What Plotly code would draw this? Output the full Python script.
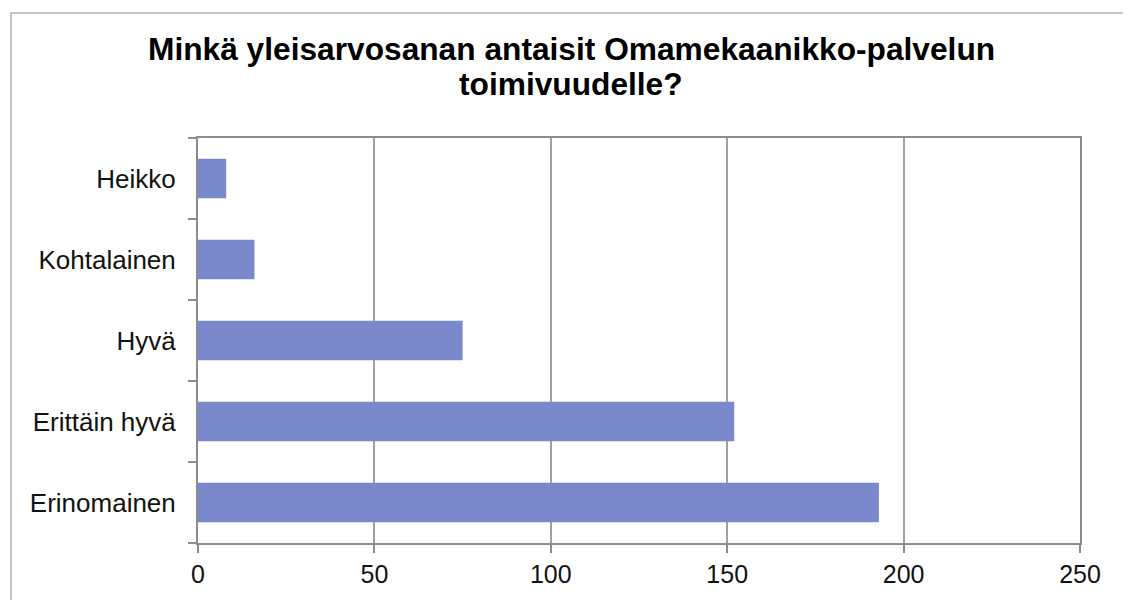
import plotly.graph_objects as go

categories = ["Erinomainen", "Erittäin hyvä", "Hyvä", "Kohtalainen", "Heikko"]
values = [193, 152, 75, 16, 8]
x_ticks = [0, 50, 100, 150, 200, 250]
title_line1 = "Minkä yleisarvosanan antaisit Omamekaanikko-palvelun"
title_line2 = "toimivuudelle?"

OFF = 8  # default body margin of the page
W, H = 1131 - OFF, 600 - OFF
L, R, T, B = 198 - OFF, 51, 138 - OFF, 54
pw, ph = W - L - R, H - T - B

def px_x(p):
    return (p - OFF - L) / pw

def px_y(p):
    return (H - B - (p - OFF)) / ph

fig = go.Figure(go.Bar(
    x=values, y=categories, orientation="h",
    marker=dict(color="#7a88cc", line=dict(width=0)),
    width=0.49,
))

font_family = "Liberation Sans, Arial, sans-serif"

fig.update_layout(
    width=W, height=H,
    margin=dict(l=L, r=R, t=T, b=B),
    paper_bgcolor="white", plot_bgcolor="white",
    showlegend=False,
    font=dict(family=font_family, size=26, color="#111"),
    xaxis=dict(
        range=[0, 250], tickvals=x_ticks, ticktext=[str(v) for v in x_ticks],
        showgrid=True, gridcolor="#a0a0a0", gridwidth=2,
        showline=True, linecolor="#8c8c8c", linewidth=2, mirror=True,
        ticks="outside", ticklen=8, tickwidth=2, tickcolor="#8c8c8c",
        zeroline=False, ticklabelstandoff=0,
        tickfont=dict(size=25),
    ),
    yaxis=dict(
        categoryorder="array", categoryarray=categories,
        showgrid=False,
        showline=True, linecolor="#8c8c8c", linewidth=2, mirror=True,
        ticks="outside", ticklen=8, tickwidth=2, tickcolor="#8c8c8c",
        tickson="boundaries", ticklabelstandoff=15,
        tickfont=dict(size=26),
    ),
    annotations=[
        dict(text="<b>" + title_line1 + "</b>", x=px_x(571), y=px_y(61),
             xref="paper", yref="paper", xanchor="center", yanchor="bottom",
             showarrow=False, font=dict(size=31.7, family=font_family, color="#000"), yshift=-7),
        dict(text="<b>" + title_line2 + "</b>", x=px_x(571), y=px_y(97),
             xref="paper", yref="paper", xanchor="center", yanchor="bottom",
             showarrow=False, font=dict(size=31.7, family=font_family, color="#000"), yshift=-7),
    ],
    shapes=[
        dict(type="rect", xref="paper", yref="paper",
             x0=px_x(11), x1=px_x(1140), y0=px_y(620), y1=px_y(12),
             line=dict(color="#c4c4c4", width=2), fillcolor="rgba(0,0,0,0)", layer="below"),
    ],
)

fig.write_html("out.html")
